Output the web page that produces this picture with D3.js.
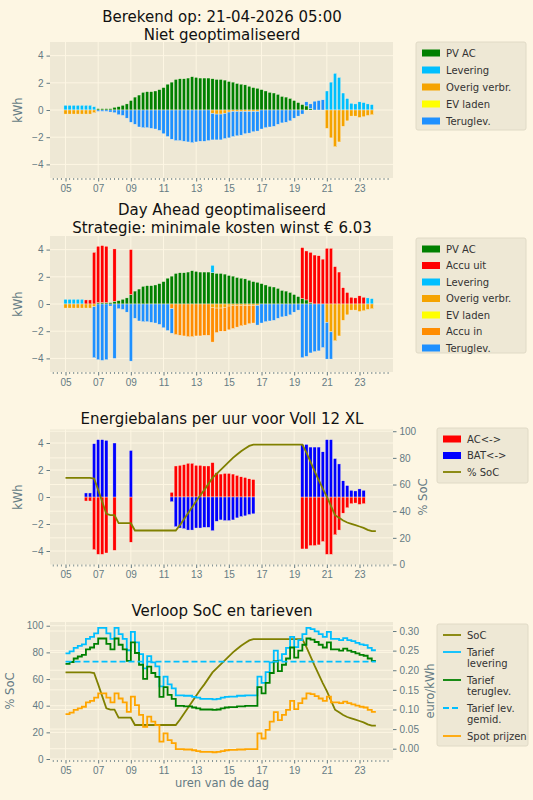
<!DOCTYPE html>
<html><head><meta charset="utf-8">
<script src="https://cdn.jsdelivr.net/npm/d3@7"></script>
<style>body{margin:0;background:#fdf6e3}svg{display:block;font-family:"DejaVu Sans",sans-serif}</style>
</head><body><svg id="c" width="533" height="800"></svg>
<script>
// quarter-hour slots from 05:00 to 23:45
const hours = d3.range(76).map(i => 5 + i * 0.25);
const socHours = d3.range(77).map(i => 5 + i * 0.25);
const xTicks = [5,7,9,11,13,15,17,19,21,23];

// ---- Panel 1: Niet geoptimaliseerd
const p1PV = [0,0,0,0, 0,0,0,0, .1,.1,.1,.1, .2,.25,.35,.45, .7,.95,1.1,1.3, 1.35,1.35,1.4,1.5, 1.65,1.9,2.05,2.25, 2.3,2.3,2.35,2.45, 2.4,2.35,2.35,2.35, 2.3,2.25,2.25,2.2, 2.1,2.05,1.95,1.9, 1.85,1.75,1.65,1.6, 1.5,1.4,1.3,1.25, 1.15,1.0,.95,.85, .7,.55,.4,.3, .1,0,0,0, 0,0,0,0, 0,0,0,0, 0,0,0,0];
const p1Lev = [.35,.35,.35,.35, .35,.35,.35,.25, 0,0,0,0, 0,0,0,0, 0,0,0,0, 0,0,0,0, 0,0,0,0, 0,0,0,0, 0,0,0,0, 0,0,0,0, 0,0,0,0, 0,0,0,0, 0,0,0,0, 0,0,0,0, 0,0,0,0, 0,0,0,0, 1.4,2.05,2.7,2.4, 1.25,.85,.5,.45, .6,.55,.45,.4];
const p1Ov = [-.3,-.3,-.3,-.3, -.3,-.3,-.3,-.2, 0,0,0,0, 0,0,0,0, 0,0,0,0, 0,0,0,0, 0,0,0,0, 0,0,0,0, 0,0,0,0, -.25,-.3,-.3,-.25, -.15,-.1,-.1,-.1, -.1,-.1,-.1,-.1, 0,0,0,0, 0,0,0,0, 0,0,0,0, 0,0,0,0, -1.35,-2.05,-2.7,-2.35, -1.2,-.8,-.45,-.45, -.55,-.5,-.4,-.35];
const p1EV = new Array(76).fill(0);
const p1Ter = [0,0,0,0, 0,0,0,0, -.1,-.1,-.1,-.15, -.2,-.35,-.4,-.6, -.9,-1.05,-1.25,-1.3, -1.3,-1.35,-1.4,-1.5, -1.75,-1.95,-2.15,-2.25, -2.25,-2.3,-2.35,-2.4, -2.35,-2.3,-2.3,-2.25, -1.95,-1.9,-1.9,-1.85, -1.9,-1.85,-1.8,-1.75, -1.65,-1.6,-1.5,-1.45, -1.4,-1.3,-1.25,-1.2, -1.05,-.95,-.9,-.8, -.6,-.45,-.3,.3, .35,.65,.7,.75, 0,0,0,0, 0,0,0,0, 0,0,0,0];

// ---- Panel 2: Day Ahead geoptimaliseerd
const p2PV = p1PV;
const p2AccuUit = [0,0,0,0, 0,.3,.3,3.8, 4.15,4.2,4.15,0, 3.85,0,0,0, 3.3,0,0,0, 0,0,0,0, 0,0,0,0, 0,0,0,0, 0,0,0,0, 0,0,0,0, 0,0,0,0, 0,0,0,0, 0,0,0,0, 0,0,0,0, 0,0,3.75,3.6, 3.7,3.6,3.55,3.3, 4.1,4.1,2.75,2.35, 1.2,.85,.5,.45, .6,.5,0,0];
const p2Lev = [.35,.35,.35,.35, .35,0,0,0, 0,0,0,0, 0,0,0,0, 0,0,0,0, 0,0,0,0, 0,0,0,0, 0,0,0,0, 0,0,0,0, .55,0,0,0, 0,0,0,0, 0,0,0,0, 0,0,0,0, 0,0,0,0, 0,0,0,0, 0,0,0,0, 0,0,0,0, 0,0,0,0, 0,0,.45,.4];
const p2Ov = [-.3,-.3,-.3,-.3, -.3,-.3,-.3,-.2, 0,0,0,0, 0,0,0,0, 0,0,0,0, 0,0,0,0, 0,0,0,0, 0,0,0,0, 0,0,0,0, -.25,-.3,-.3,-.25, -.15,-.1,-.1,-.1, -.1,-.1,-.1,-.1, 0,0,0,0, 0,0,0,0, 0,0,0,0, 0,0,0,0, -1.35,-2.05,-2.7,-2.35, -1.2,-.8,-.45,-.45, -.55,-.5,-.4,-.35];
const p2EV = new Array(76).fill(0);
const p2AccuIn = [0,0,0,0, 0,0,0,0, 0,0,0,0, 0,0,0,0, 0,0,0,0, 0,0,0,0, 0,0,-.35,-2.25, -2.3,-2.35,-2.4,-2.4, -2.35,-2.35,-2.3,-2.3, -2.55,-1.8,-1.7,-1.75, -1.75,-1.7,-1.6,-1.5, -1.45,-1.35,-1.3,0, 0,0,0,0, 0,0,0,0, 0,0,0,0, 0,0,0,0, 0,0,0,0, 0,0,0,0, 0,0,0,0];
const p2Ter = [0,0,0,0, 0,0,0,-3.75, -4.1,-4.15,-4.1,-.15, -4.0,-.35,-.4,-.6, -4.2,-1.05,-1.25,-1.3, -1.3,-1.35,-1.4,-1.5, -1.75,-1.95,-1.8,0, 0,0,0,0, 0,0,0,0, 0,0,0,0, 0,0,0,0, 0,0,0,-1.45, -1.4,-1.3,-1.25,-1.2, -1.05,-.95,-.9,-.8, -.6,-.45,-3.95,-3.85, -3.6,-3.5,-3.45,-3.2, -2.7,-2.0,0,0, 0,0,0,0, 0,0,0,0];

// ---- Panel 3: Energiebalans
const p3AC = [0,0,0,0, 0,-.3,-.3,-3.9, -4.25,-4.25,-4.15,0, -3.95,0,0,0, -3.35,0,0,0, 0,0,0,0, 0,0,.35,2.3, 2.35,2.4,2.5,2.5, 2.35,2.35,2.3,2.3, 2.55,1.8,1.7,1.75, 1.75,1.7,1.6,1.5, 1.45,1.35,1.3,0, 0,0,0,0, 0,0,0,0, 0,0,-3.85,-3.85, -3.6,-3.6,-3.55,-3.3, -4.25,-4.25,-2.8,-2.45, -1.2,-.8,-.5,-.45, -.55,-.5,0,0];
const p3BAT = [0,0,0,0, 0,.3,.3,3.95, 4.25,4.25,4.2,0, 4.0,0,0,0, 3.45,0,0,0, 0,0,0,0, 0,0,-.35,-2.2, -2.3,-2.35,-2.45,-2.45, -2.3,-2.3,-2.25,-2.25, -2.5,-1.8,-1.7,-1.75, -1.75,-1.7,-1.55,-1.45, -1.4,-1.3,-1.25,0, 0,0,0,0, 0,0,0,0, 0,0,3.9,3.9, 3.7,3.7,3.7,3.35, 4.25,4.25,2.85,2.45, 1.2,.85,.5,.45, .6,.5,0,0];
const soc = [65,65,65,65, 65,65,65,64.5, 56,47,38,37, 37,31,31,31, 31,25.5,25.5,25.5, 25.5,25.5,25.5,25.5, 25.5,25.5,25.5,25.5, 29.5,34,38.5,43, 47.5,52,56,60.5, 65,68,71,74, 77,80,82.5,85, 87,89,90,90, 90,90,90,90, 90,90,90,90, 90,90,90,84, 77,70,63.5,57, 51,44,37,35, 33,31.5,30.5,29.5, 28.5,27.5,26,25, 25];

// ---- Panel 4: tarieven (euro/kWh)
const spot = [.088,.092,.099,.103, .107,.118,.122,.130, .141,.141,.130,.118, .141,.128,.118,.094, .133,.111,.086,.056, .082,.069,.060,.018, .039,.022,.014,-.001, -.001,-.002,-.002,-.004, -.006,-.008,-.008,-.008, -.009,-.008,-.006,-.004, -.003,-.003,-.002,-.002, -.001,-.001,-.001,.039, .026,.048,.069,.093, .073,.086,.099,.122, .101,.116,.128,.141, .139,.134,.128,.122, .133,.118,.118,.116, .120,.116,.113,.110, .107,.105,.099,.094];
const tarLev = [.243,.248,.257,.262, .266,.280,.285,.294, .308,.308,.294,.280, .308,.292,.280,.251, .298,.271,.241,.205, .236,.220,.210,.159, .184,.164,.154,.136, .136,.135,.135,.132, .130,.127,.127,.127, .126,.127,.130,.132, .133,.133,.135,.135, .136,.136,.136,.184, .168,.195,.220,.250, .225,.241,.257,.285, .259,.277,.292,.308, .305,.299,.292,.285, .298,.280,.280,.277, .282,.277,.274,.270, .266,.264,.257,.251];
const tarTer = [.216,.221,.230,.235, .239,.253,.258,.267, .281,.281,.267,.253, .281,.265,.253,.224, .271,.244,.214,.178, .209,.193,.183,.132, .157,.137,.127,.109, .109,.108,.108,.105, .103,.100,.100,.100, .099,.100,.103,.105, .106,.106,.108,.108, .109,.109,.109,.157, .141,.168,.193,.223, .198,.214,.230,.258, .232,.250,.265,.281, .278,.272,.265,.258, .271,.253,.253,.250, .255,.250,.247,.243, .239,.237,.230,.224];
const tarGem = 0.222;

const svg = d3.select("#c");
const TXT = "#657b83";
const x = d3.scaleLinear().domain([4.05, 25.05]).range([50, 393]);
const BW = x(4.25) - x(4.05);

function frame(top, bottom) {
  svg.append("rect").attr("x", 50).attr("y", top).attr("width", 343).attr("height", bottom - top).attr("fill", "#eee8d5");
}
function hgrid(y, ticks) {
  svg.append("g").selectAll("line").data(ticks).join("line")
    .attr("x1", 50).attr("x2", 393).attr("y1", d => y(d)).attr("y2", d => y(d))
    .attr("stroke", "#fdf6e3").attr("stroke-width", 1);
}
function xaxis(top, bottom) {
  svg.append("g").selectAll("line").data(xTicks).join("line")
    .attr("x1", d => x(d)).attr("x2", d => x(d)).attr("y1", top).attr("y2", bottom)
    .attr("stroke", "#fdf6e3");
  const ax = d3.axisBottom(x).tickValues(xTicks).tickFormat(d => d3.format("02d")(d)).tickSize(3.5).tickPadding(3);
  const g = svg.append("g").attr("transform", `translate(0,${bottom})`).call(ax);
  g.select(".domain").remove();
  g.selectAll("line").attr("stroke", TXT);
  g.selectAll("text").attr("fill", TXT).attr("font-size", 10);
  const minor = d3.range(4.25, 25.01, 0.25).filter(d => Math.abs(d - Math.round(d)) > 0.01 || Math.round(d) % 2 === 0);
  svg.append("g").selectAll("line").data(minor).join("line")
    .attr("x1", d => x(d)).attr("x2", d => x(d)).attr("y1", bottom).attr("y2", bottom + 2)
    .attr("stroke", TXT).attr("stroke-width", 0.8);
}
function yaxis(y, ticks, fmt, side) {
  const ax = (side === "right" ? d3.axisRight(y) : d3.axisLeft(y)).tickValues(ticks).tickFormat(fmt).tickSize(3.5).tickPadding(3);
  const g = svg.append("g").attr("transform", `translate(${side === "right" ? 393 : 50},0)`).call(ax);
  g.select(".domain").remove();
  g.selectAll("line").attr("stroke", TXT);
  g.selectAll("text").attr("fill", TXT).attr("font-size", 10);
}
function label(text, xx, yy, rot) {
  svg.append("text").attr("transform", `translate(${xx},${yy}) rotate(${rot || 0})`).attr("text-anchor", "middle")
    .attr("fill", TXT).attr("font-size", 11.5).text(text);
}
function title(lines, y0) {
  lines.forEach((t, i) => svg.append("text").attr("x", 222).attr("y", y0 + i * 18).attr("text-anchor", "middle")
    .attr("font-size", 15).attr("fill", "#111").text(t));
}
const kfmt = d => d < 0 ? "\u2212" + Math.abs(d) : d;
function stackBars(y, series) {
  const rows = hours.map((h, i) => { const r = { h }; series.forEach(s => r[s.name] = s.values[i]); return r; });
  const st = d3.stack().keys(series.map(s => s.name)).offset(d3.stackOffsetDiverging)(rows);
  st.forEach((layer, k) => {
    svg.append("g").selectAll("rect").data(layer.filter(d => d[1] !== d[0])).join("rect")
      .attr("x", d => x(d.data.h) - BW / 2).attr("width", BW)
      .attr("y", d => y(Math.max(d[0], d[1]))).attr("height", d => Math.abs(y(d[0]) - y(d[1])))
      .attr("fill", series[k].color).attr("stroke", "#fdf6e3").attr("stroke-width", 0.4);
  });
}
function legend(x0, y0, w, h, items, dy) {
  svg.append("rect").attr("x", x0).attr("y", y0).attr("width", w).attr("height", h).attr("rx", 2)
    .attr("fill", "#eee8d5").attr("stroke", "#e0dac6");
  let yy = y0 + 11;
  items.forEach(it => {
    if (it.line) {
      svg.append("line").attr("x1", x0 + 6).attr("x2", x0 + 24).attr("y1", yy).attr("y2", yy)
        .attr("stroke", it.color).attr("stroke-width", 1.8).attr("stroke-dasharray", it.dash || null);
    } else {
      svg.append("rect").attr("x", x0 + 6).attr("y", yy - 3.5).attr("width", 18).attr("height", 7).attr("fill", it.color);
    }
    const lines = it.name.split("\n");
    lines.forEach((l, j) => svg.append("text").attr("x", x0 + 30).attr("y", yy + 3.5 + j * 11).attr("font-size", 10)
      .attr("fill", "#333").text(l));
    yy += dy + (lines.length - 1) * 11;
  });
}

const C = { pv: "#008000", lev: "#00bfff", ov: "#f5a300", ev: "#ffff00", ter: "#1e90ff", uit: "#ff0000", in: "#ff8c00" };
const yTicks = [-4, -2, 0, 2, 4];

// Panel 1
{
  const top = 42, bot = 178;
  const y = d3.scaleLinear().domain([-5, 5]).range([bot, top]);
  frame(top, bot); hgrid(y, yTicks); xaxis(top, bot); yaxis(y, yTicks, kfmt);
  stackBars(y, [
    { name: "pv", values: p1PV, color: C.pv }, { name: "lev", values: p1Lev, color: C.lev },
    { name: "ov", values: p1Ov, color: C.ov }, { name: "ev", values: p1EV, color: C.ev },
    { name: "ter", values: p1Ter, color: C.ter }]);
  label("kWh", 22, 110, -90);
  title(["Berekend op: 21-04-2026 05:00", "Niet geoptimaliseerd"], 22);
  legend(416, 42, 110, 88, [{ name: "PV AC", color: C.pv }, { name: "Levering", color: C.lev },
    { name: "Overig verbr.", color: C.ov }, { name: "EV laden", color: C.ev }, { name: "Teruglev.", color: C.ter }], 17);
}
// Panel 2
{
  const top = 236, bot = 372;
  const y = d3.scaleLinear().domain([-5, 5]).range([bot, top]);
  frame(top, bot); hgrid(y, yTicks); xaxis(top, bot); yaxis(y, yTicks, kfmt);
  stackBars(y, [
    { name: "pv", values: p2PV, color: C.pv }, { name: "uit", values: p2AccuUit, color: C.uit },
    { name: "lev", values: p2Lev, color: C.lev }, { name: "ov", values: p2Ov, color: C.ov },
    { name: "ev", values: p2EV, color: C.ev }, { name: "in", values: p2AccuIn, color: C.in },
    { name: "ter", values: p2Ter, color: C.ter }]);
  label("kWh", 22, 304, -90);
  title(["Day Ahead geoptimaliseerd", "Strategie: minimale kosten winst \u20ac 6.03"], 215);
  legend(416, 238, 110, 115, [{ name: "PV AC", color: C.pv }, { name: "Accu uit", color: C.uit },
    { name: "Levering", color: C.lev }, { name: "Overig verbr.", color: C.ov }, { name: "EV laden", color: C.ev },
    { name: "Accu in", color: C.in }, { name: "Teruglev.", color: C.ter }], 16.5);
}
// Panel 3
{
  const top = 429.5, bot = 564.5;
  const y = d3.scaleLinear().domain([-5, 5]).range([bot, top]);
  const y2 = d3.scaleLinear().domain([0, 101.3]).range([bot, top]);
  frame(top, bot); hgrid(y, yTicks); hgrid(y2, [20, 40, 60, 80, 100]); xaxis(top, bot);
  yaxis(y, yTicks, kfmt); yaxis(y2, [0, 20, 40, 60, 80, 100], d => d, "right");
  stackBars(y, [{ name: "ac", values: p3AC, color: "#ff0000" }, { name: "bat", values: p3BAT, color: "#0000ff" }]);
  svg.append("path").datum(soc).attr("fill", "none").attr("stroke", "#808000").attr("stroke-width", 1.8)
    .attr("d", d3.line().x((d, i) => x(socHours[i])).y(d => y2(d)));
  label("kWh", 22, 497, -90); label("% SoC", 427, 497, -90);
  title(["Energiebalans per uur voor Voll 12 XL"], 424);
  legend(437, 428, 91, 55, [{ name: "AC<->", color: "#ff0000" }, { name: "BAT<->", color: "#0000ff" },
    { name: "% SoC", color: "#808000", line: true }], 16.5);
}
// Panel 4
{
  const top = 622, bot = 760;
  const y = d3.scaleLinear().domain([-0.75, 102.8]).range([bot, top]);
  const y2 = d3.scaleLinear().domain([-0.0288, 0.323]).range([bot, top]);
  frame(top, bot); hgrid(y, [0, 20, 40, 60, 80, 100]); hgrid(y2, [0, .05, .1, .15, .2, .25, .3]); xaxis(top, bot);
  yaxis(y, [0, 20, 40, 60, 80, 100], d => d); yaxis(y2, [0, .05, .1, .15, .2, .25, .3], d3.format(".2f"), "right");
  svg.append("path").datum(soc).attr("fill", "none").attr("stroke", "#808000").attr("stroke-width", 1.8)
    .attr("d", d3.line().x((d, i) => x(socHours[i])).y(d => y(d)));
  const stepLine = (vals, color, dash) => {
    const pts = vals.concat([vals[vals.length - 1]]);
    svg.append("path").datum(pts).attr("fill", "none").attr("stroke", color).attr("stroke-width", 1.8)
      .attr("stroke-dasharray", dash || null)
      .attr("d", d3.line().curve(d3.curveStepAfter).x((d, i) => x(socHours[i])).y(d => y2(d)));
  };
  stepLine(tarLev, "#00bfff");
  stepLine(tarTer, "#008000");
  stepLine(hours.map(() => tarGem), "#00bfff", "6,3");
  stepLine(spot, "#ffa500");
  label("% SoC", 14, 691, -90); label("euro/kWh", 434, 691, -90);
  label("uren van de dag", 222, 787);
  title(["Verloop SoC en tarieven"], 616);
  legend(437, 624, 91, 122, [{ name: "SoC", color: "#808000", line: true },
    { name: "Tarief\nlevering", color: "#00bfff", line: true }, { name: "Tarief\nteruglev.", color: "#008000", line: true },
    { name: "Tarief lev.\ngemid.", color: "#00bfff", line: true, dash: "6,3" }, { name: "Spot prijzen", color: "#ffa500", line: true }], 17);
}
</script></body></html>
